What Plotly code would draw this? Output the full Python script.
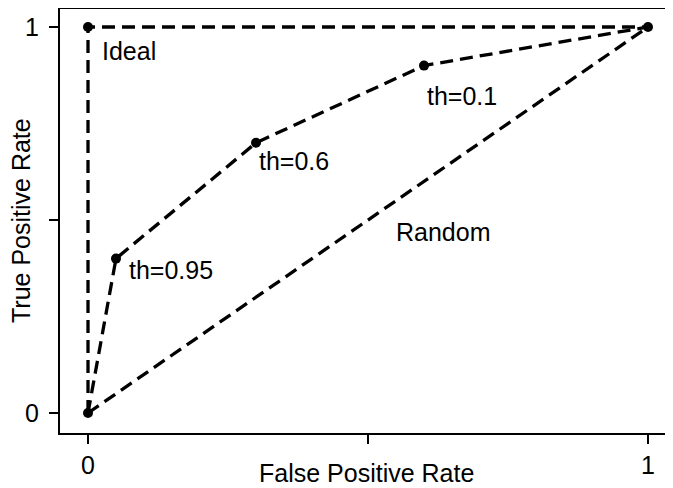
import plotly.graph_objects as go

# ROC curve data
roc_fpr = [0.0, 0.05, 0.3, 0.6, 1.0]
roc_tpr = [0.0, 0.4, 0.7, 0.9, 1.0]
ideal_fpr = [0.0, 0.0, 1.0]
ideal_tpr = [0.0, 1.0, 1.0]
random_fpr = [0.0, 1.0]
random_tpr = [0.0, 1.0]
thresholds = ["th=0.95", "th=0.6", "th=0.1"]
threshold_idx = [1, 2, 3]
tick_vals = [0, 0.5, 1]
tick_text = ["0", "", "1"]

FONT = "Liberation Sans, Arial, Helvetica, sans-serif"
FS = 25
DASH = "13px,7px"

fig = go.Figure()
fig.add_trace(go.Scatter(x=ideal_fpr, y=ideal_tpr, mode="lines",
                         line=dict(color="black", width=3.3, dash=DASH),
                         hoverinfo="skip"))
fig.add_trace(go.Scatter(x=random_fpr, y=random_tpr, mode="lines",
                         line=dict(color="black", width=3.3, dash=DASH),
                         hoverinfo="skip"))
fig.add_trace(go.Scatter(x=roc_fpr, y=roc_tpr, mode="lines+markers",
                         line=dict(color="black", width=3.3, dash=DASH),
                         marker=dict(color="black", size=10),
                         hoverinfo="skip"))
fig.add_trace(go.Scatter(x=[ideal_fpr[1]], y=[ideal_tpr[1]], mode="markers",
                         marker=dict(color="black", size=10), hoverinfo="skip"))

shifts = [(11, -11), (1, -18), (1, -30)]
for lab, i, (dx, dy) in zip(thresholds, threshold_idx, shifts):
    fig.add_annotation(x=roc_fpr[i], y=roc_tpr[i], text=lab, showarrow=False,
                       xanchor="left", yanchor="middle", xshift=dx, yshift=dy,
                       font=dict(size=FS, color="black", family=FONT))
fig.add_annotation(x=ideal_fpr[1], y=ideal_tpr[1], text="Ideal", showarrow=False,
                   xanchor="left", yanchor="middle", xshift=12, yshift=-24,
                   font=dict(size=FS, color="black", family=FONT))
fig.add_annotation(x=0.634, y=0.47, text="Random", showarrow=False,
                   xanchor="center", yanchor="middle",
                   font=dict(size=FS, color="black", family=FONT))

# axis titles as annotations for precise placement
fig.add_annotation(xref="paper", yref="paper", x=0.5, y=0, yshift=-40,
                   text="False Positive Rate", showarrow=False,
                   xanchor="center", yanchor="middle", borderpad=0,
                   font=dict(size=FS, color="black", family=FONT))
fig.add_annotation(xref="paper", yref="paper", x=0, y=0.5, xshift=-39,
                   text="True Positive Rate", showarrow=False, textangle=-90,
                   xanchor="center", yanchor="middle",
                   font=dict(size=FS, color="black", family=FONT))

axis_common = dict(
    tickvals=tick_vals, ticktext=tick_text, ticks="outside", ticklen=9,
    tickwidth=1.5, tickcolor="black", showgrid=False, zeroline=False,
    showline=True, linecolor="black", linewidth=2, automargin=False,
    tickfont=dict(size=FS, color="black", family=FONT),
)
fig.update_xaxes(range=[-0.05, 1.0446], mirror=True, ticklabelstandoff=0,
                 **axis_common)
fig.update_yaxes(range=[-0.0518, 1.0466], mirror=False, ticklabelstandoff=5,
                 **axis_common)
# page body has an 8px margin, so the figure is sized to fit the window
fig.update_layout(width=665, height=480, showlegend=False,
                  margin=dict(l=52, r=0, t=1, b=55),
                  plot_bgcolor="white", paper_bgcolor="white",
                  font=dict(family=FONT, color="black"))
fig.write_html("out.html")
